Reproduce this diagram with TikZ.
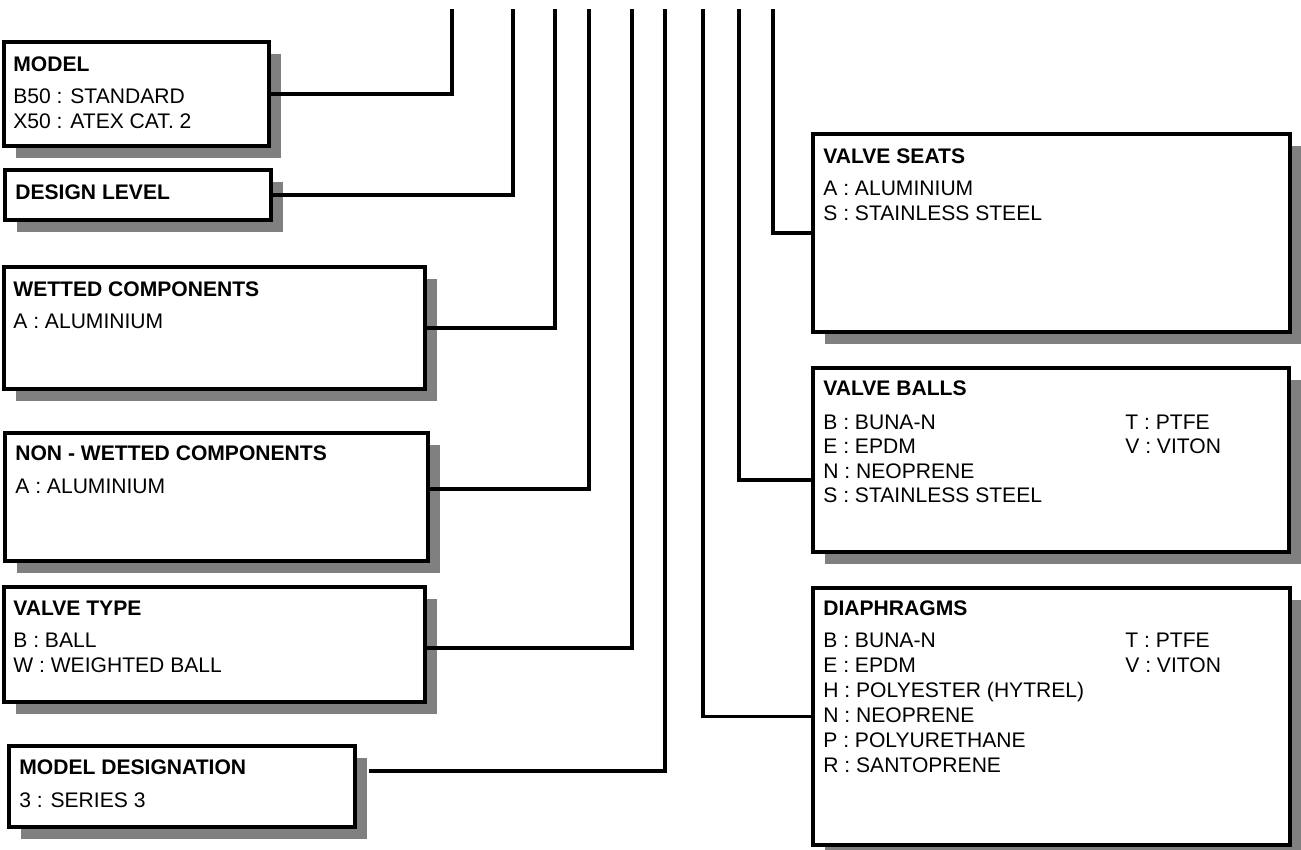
\documentclass[tikz,border=0pt]{standalone}
\usepackage{fontspec}
\setmainfont{Liberation Sans}
\usetikzlibrary{shadows,fit}

\newcommand{\boxfont}{\fontsize{12}{14}\selectfont}

\tikzset{
  box/.style={draw, line width=1.9pt, fill=white, inner sep=0pt,
    drop shadow={shadow xshift=0.24cm, shadow yshift=-0.24cm, fill=black!50, opacity=1}},
  wire/.style={line width=1.8pt},
  head/.style={anchor=base west, inner sep=0pt, font=\boxfont\bfseries},
  item/.style={anchor=base west, inner sep=0pt, font=\boxfont},
}

\begin{document}
\begin{tikzpicture}[x=0.02cm, y=-0.02cm]
    \useasboundingbox (0,0) rectangle (1301,849);

    % Tops of the code lines
    \foreach \x [count=\i] in {452,513,555,589,632,665,703,739,773}
        \coordinate (t\i) at (\x,9);

    % Left column
    \node[box, fit={(4,42) (269,146)}] (model) {};
    \node[head] (model-h) at (13,71) {MODEL};
    \foreach \t [count=\i] in {B50 : STANDARD, X50 : ATEX CAT. 2}
        \node[item] (model-\i) at (13,{103+25*(\i-1)}) {\t};

    \node[box, fit={(5,170) (271,220)}] (level) {};
    \node[head] (level-h) at (15,199) {DESIGN LEVEL};

    \node[box, fit={(4,267) (425,389)}] (wetted) {};
    \node[head] (wetted-h) at (13,296) {WETTED COMPONENTS};
    \node[item] (wetted-1) at (13,328) {A : ALUMINIUM};

    \node[box, fit={(5,433) (428,561)}] (nonwet) {};
    \node[head] (nonwet-h) at (15,460) {NON - WETTED COMPONENTS};
    \node[item] (nonwet-1) at (15,493) {A : ALUMINIUM};

    \node[box, fit={(4,587) (425,702)}] (vtype) {};
    \node[head] (vtype-h) at (13,615) {VALVE TYPE};
    \foreach \t [count=\i] in {B : BALL, W : WEIGHTED BALL}
        \node[item] (vtype-\i) at (13,{647+25*(\i-1)}) {\t};

    \node[box, fit={(9,746) (355,827)}] (desig) {};
    \node[head] (desig-h) at (19,774) {MODEL DESIGNATION};
    \node[item] (desig-1) at (19,807) {3 : SERIES 3};

    % Right column
    \node[box, fit={(813,134) (1290,332)}] (seats) {};
    \node[head] (seats-h) at (823,163) {VALVE SEATS};
    \foreach \t [count=\i] in {A : ALUMINIUM, S : STAINLESS STEEL}
        \node[item] (seats-\i) at (823,{195+25*(\i-1)}) {\t};

    \node[box, fit={(813,368) (1289,552)}] (balls) {};
    \node[head] (balls-h) at (823,395) {VALVE BALLS};
    \foreach \t [count=\i] in {B : BUNA-N, E : EPDM, N : NEOPRENE, S : STAINLESS STEEL}
        \node[item] (balls-\i) at (823,{429+24.5*(\i-1)}) {\t};
    \foreach \t [count=\i] in {T : PTFE, V : VITON}
        \node[item] (balls-r\i) at (1125,{429+24.5*(\i-1)}) {\t};

    \node[box, fit={(813,588) (1290,845)}] (diaph) {};
    \node[head] (diaph-h) at (823,615) {DIAPHRAGMS};
    \foreach \t [count=\i] in {B : BUNA-N, E : EPDM, H : POLYESTER (HYTREL), N : NEOPRENE, P : POLYURETHANE, R : SANTOPRENE}
        \node[item] (diaph-\i) at (823,{647+25*(\i-1)}) {\t};
    \foreach \t [count=\i] in {T : PTFE, V : VITON}
        \node[item] (diaph-r\i) at (1125,{647+25*(\i-1)}) {\t};

    % Connectors
    \draw[wire] (model.east) -| (t1);
    \draw[wire] (level.east) -| (t2);
    \draw[wire] (wetted.east) -| (t3);
    \draw[wire] ([yshift=0.16cm]nonwet.east) -| (t4);
    \draw[wire] ([yshift=-0.07cm]vtype.east) -| (t5);
    \draw[wire] ([xshift=0.24cm, yshift=0.31cm]desig.east) -| (t6);
    \draw[wire] (diaph.west) -| (t7);
    \draw[wire] ([yshift=-0.4cm]balls.west) -| (t8);
    \draw[wire] (seats.west) -| (t9);
\end{tikzpicture}
\end{document}
